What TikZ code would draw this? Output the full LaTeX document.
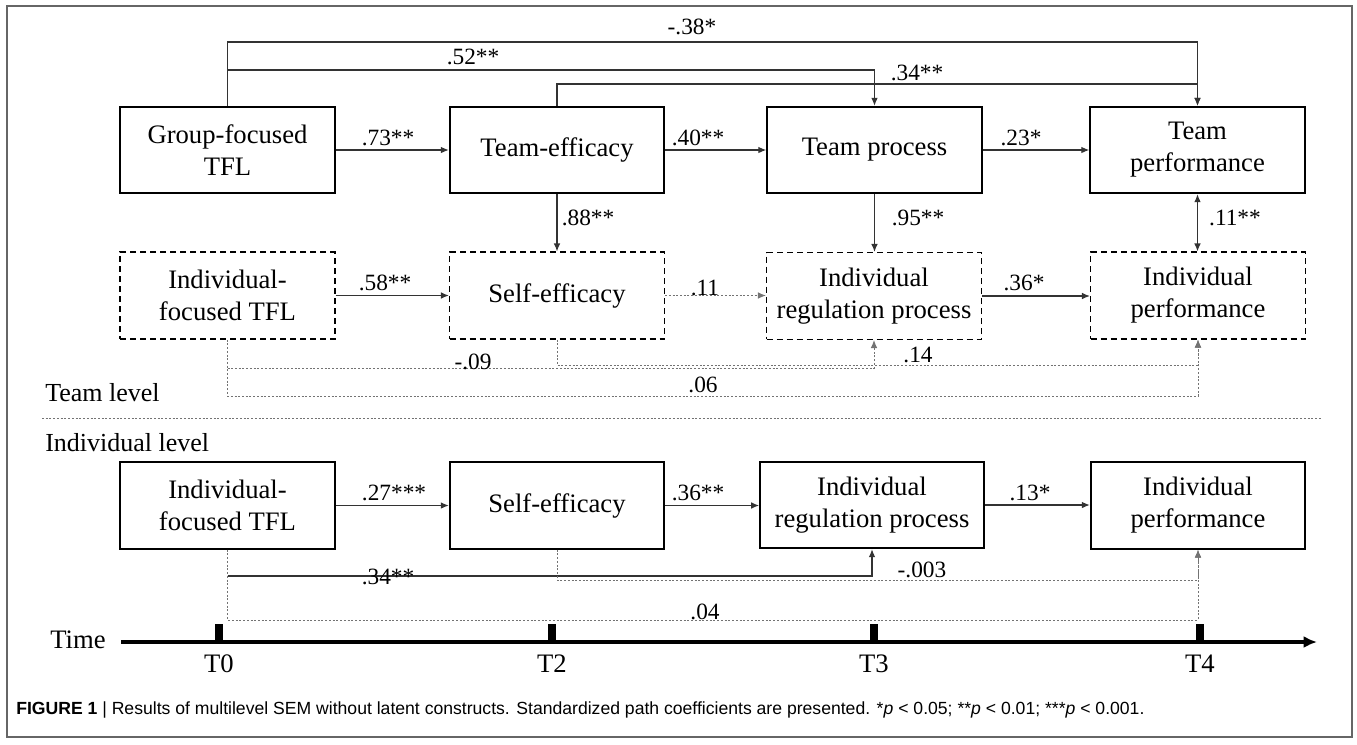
\documentclass[tikz,border=0pt]{standalone}
\usepackage{fontspec}
\setmainfont{Liberation Serif}
\newfontfamily\capfont{Liberation Sans}
\usetikzlibrary{arrows.meta}
\begin{document}
\begin{tikzpicture}[x=0.75pt,y=-0.75pt,
  box/.style={draw=black, line width=1.3pt, minimum width=161pt, minimum height=65pt, align=center, font=\fontsize{20}{24}\selectfont, inner sep=0pt},
  dbox/.style={box, line width=1.1pt, dash pattern=on 4.5pt off 3pt},
  conn/.style={draw=black!80, line width=0.9pt, -{Latex[length=6pt,width=5pt]}},
  dconn/.style={draw=black!55, line width=0.75pt, dash pattern=on 1.5pt off 1.3pt, -{Latex[length=6pt,width=5pt]}},
  lab/.style={font=\fontsize{17.5}{20}\selectfont, inner sep=0pt},
  lvl/.style={font=\fontsize{19.5}{22}\selectfont, anchor=west, inner sep=0pt},
  tlab/.style={font=\fontsize{20}{22}\selectfont, inner sep=0pt},
  tick/.style={fill=black},
  ]
\path[use as bounding box] (0,0) rectangle (1357,744);
\draw[draw=black!60, line width=1.1pt] (7,6) rectangle (1352,737);

% level coordinates
\coordinate (yA) at (0,42);
\coordinate (yB) at (0,70);
\coordinate (yC) at (0,84);
\coordinate (yD) at (0,368);
\coordinate (yE) at (0,365);
\coordinate (yF) at (0,396);
\coordinate (yG) at (0,576);
\coordinate (yH) at (0,580);
\coordinate (yI) at (0,620);

% team level boxes
\node[box] (gf) at (227.5,150) {Group-focused\\TFL};
\node[box] (te) at (557,150) {Team-efficacy};
\node[box] (tp) at (874.5,150) {Team process};
\node[box] (tpf) at (1197.5,150) {Team\\performance};
\node[dbox] (if) at (227.5,295.5) {Individual-\\focused TFL};
\node[dbox] (se) at (557,295.5) {Self-efficacy};
\node[dbox] (irp) at (874,296) {Individual\\regulation process};
\node[dbox] (ip) at (1198,295.5) {Individual\\performance};

% individual level boxes
\node[box] (if3) at (227.5,505.5) {Individual-\\focused TFL};
\node[box] (se3) at (557,505.5) {Self-efficacy};
\node[box, minimum width=168pt] (irp3) at (872,505) {Individual\\regulation process};
\node[box] (ip3) at (1198,505.5) {Individual\\performance};

% top connectors
\draw[conn] (gf.north) -- (gf.north |- yA) -| (tpf.north);
\draw[conn] (gf.north |- yB) -| (tp.north);
\draw[conn] (te.north) -- (te.north |- yC) -| (tpf.north);
\node[lab] (l1) at (692,27) {-.38*};
\node[lab] (l2) at (473,57) {.52**};
\node[lab] (l3) at (917,73) {.34**};

% row 1
\draw[conn] (gf) -- (te);
\draw[conn] (te) -- (tp);
\draw[conn] (tp) -- (tpf);
\node[lab] (l4) at (388,138) {.73**};
\node[lab] (l5) at (698,138) {.40**};
\node[lab] (l6) at (1021,138) {.23*};

% verticals
\draw[conn] (te.south) -- (te.south |- se.north);
\draw[conn] (tp.south) -- (tp.south |- irp.north);
\draw[conn, {Latex[length=6pt,width=5pt]}-{Latex[length=6pt,width=5pt]}] (tpf.south) -- (tpf.south |- ip.north);
\node[lab] (l7) at (588,218) {.88**};
\node[lab] (l8) at (918,218) {.95**};
\node[lab] (l9) at (1235,218) {.11**};

% row 2
\draw[conn] (if) -- (se);
\draw[dconn] (se.east) -- (irp.west |- se.east);
\draw[conn] (irp.east) -- (ip.west |- irp.east);
\node[lab] (l10) at (385,283) {.58**};
\node[lab] (l11) at (705,288) {.11};
\node[lab] (l12) at (1024,283) {.36*};

% below row 2
\draw[dconn] (if.south) -- (if.south |- yF) -| (ip.south);
\draw[dconn] (if.south |- yD) -| (irp.south);
\draw[dconn] (se.south) -- (se.south |- yE) -| (ip.south);
\node[lab] (l13) at (473,362) {-.09};
\node[lab] (l14) at (918,355) {.14};
\node[lab] (l15) at (703,385) {.06};

% level labels
\node[lvl] (tl) at (45,393) {Team level};
\draw[draw=black!55, line width=0.75pt, dash pattern=on 1.5pt off 1.3pt] (42,418) -- (1321,418);
\node[lvl] (il) at (45,443) {Individual level};

% row 3
\draw[conn] (if3) -- (se3);
\draw[conn] (se3.east) -- (irp3.west |- se3.east);
\draw[conn] (irp3.east) -- (ip3.west |- irp3.east);
\node[lab] (l16) at (394,493) {.27***};
\node[lab] (l17) at (698,493) {.36**};
\node[lab] (l18) at (1030,493) {.13*};

% below row 3
\draw[dconn] (if3.south) -- (if3.south |- yI) -| (ip3.south);
\draw[conn] (if3.south |- yG) -| (irp3.south);
\draw[dconn] (se3.south) -- (se3.south |- yH) -| (ip3.south);
\node[lab] (l19) at (388,577) {.34**};
\node[lab] (l20) at (922,570) {-.003};
\node[lab] (l21) at (705,612) {.04};

% time axis
\node[tlab] (time) at (78,640) {Time};
\coordinate (ax0) at (121,642);
\coordinate (ax1) at (1317,642);
\draw[line width=3pt, -{Latex[length=10pt,width=9pt]}] (ax0) -- (ax1);
\fill[tick] (215,624) rectangle (223,642);
\fill[tick] (548,624) rectangle (556,642);
\fill[tick] (870,624) rectangle (878,642);
\fill[tick] (1196,624) rectangle (1204,642);
\node[tlab] (t0) at (219,664) {T0};
\node[tlab] (t2) at (552,664) {T2};
\node[tlab] (t3) at (874,664) {T3};
\node[tlab] (t4) at (1200,664) {T4};

% caption
\node[anchor=west, inner sep=0pt, font=\capfont\fontsize{13.2}{15}\selectfont] (cap) at (16,710)
  {\textbf{FIGURE 1} | Results of multilevel SEM without latent constructs. Standardized path coefficients are presented. *\textit{p} < 0.05; **\textit{p} < 0.01; ***\textit{p} < 0.001.};
\end{tikzpicture}
\end{document}
